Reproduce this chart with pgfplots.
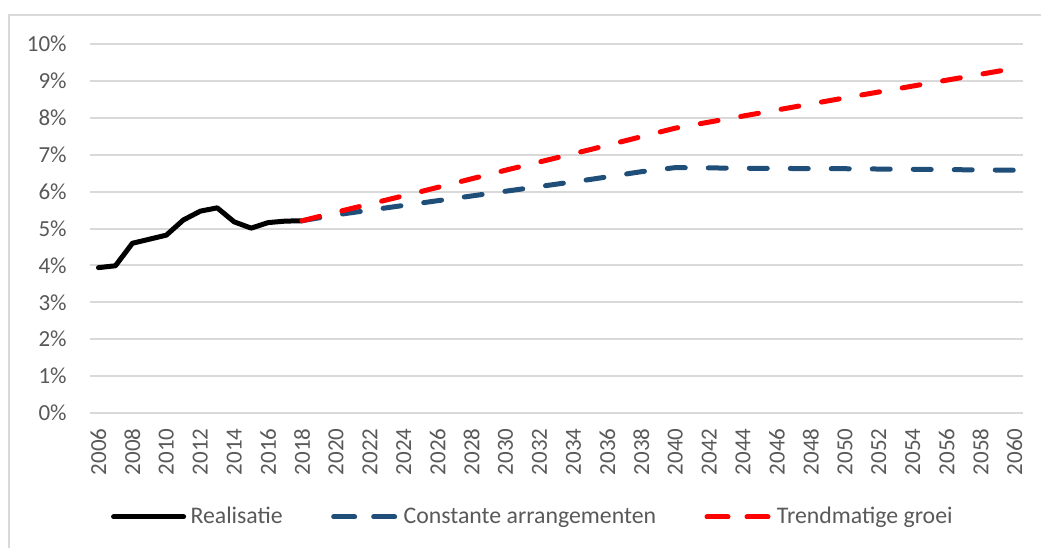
\documentclass[border=0pt]{standalone}
\usepackage{pgfplots}
\pgfplotsset{compat=1.18}
\usepackage{fontspec}
\setmainfont{Carlito}
\definecolor{txt}{HTML}{595959}
\definecolor{gridc}{HTML}{D9D9D9}
\definecolor{dblue}{HTML}{1F4E79}
\definecolor{xred}{HTML}{FF0000}
\pgfplotsset{
  solidleg/.style={legend image code/.code={\draw[##1] (0pt,0pt) -- (35pt,0pt);}},
  dashleg/.style={legend image code/.code={\draw[##1, dash pattern=on 10.5pt off 9.5pt] (0pt,0pt) -- (31.5pt,0pt);}},
}
\begin{document}
\begin{tikzpicture}
\path[use as bounding box] (0,0) rectangle (520.5pt,-274pt);
\draw[gridc, line width=1pt] (4.5pt,-274pt) -- (4.5pt,-7.5pt) -- (520.5pt,-7.5pt);
\begin{axis}[
  at={(45pt,-22pt)}, anchor=north west, scale only axis,
  width=466.5pt, height=184.5pt,
  xmin=2005.5, xmax=2060.5, ymin=0, ymax=10,
  xtick={2006,2008,...,2060}, ytick={0,1,...,10},
  /pgf/number format/assume math mode=true,
  /pgf/number format/1000 sep={},
  yticklabel={\pgfmathprintnumber{\tick}\%},
  axis line style={draw=none},
  ymajorgrids, grid style={gridc, line width=1pt},
  major tick length=0pt,
  tick label style={font=\fontsize{11.5}{13}\selectfont, text=txt, inner sep=0pt},
  yticklabel style={anchor=east},
  yticklabel shift=11.5pt,
  xticklabel style={rotate=90, anchor=east},
  xticklabel shift=7.5pt,
  clip=false,
  legend columns=3,
  legend style={at={(0.4759,-0.2818)}, anchor=center, draw=none, fill=none,
    font=\fontsize{11.9}{14}\selectfont, text=txt,
    /tikz/every even column/.append style={column sep=22pt},
    nodes={inner sep=2.2pt}},
  legend cell align=left,
]
\addplot[black, line width=2.5pt, line join=round, line cap=round, solidleg]
coordinates {
(2006,3.94) (2007,3.99) (2008,4.60) (2009,4.71) (2010,4.82) (2011,5.23)
(2012,5.47) (2013,5.56) (2014,5.18) (2015,5.01) (2016,5.16) (2017,5.20) (2018,5.21)
};
\addlegendentry{Realisatie}
\addplot[dblue, line width=2.5pt, line cap=round, dash pattern=on 9pt off 11.5pt, dashleg]
coordinates {
(2018,5.21) (2020,5.37) (2025,5.69) (2030,6.01) (2035,6.33) (2038,6.54) (2040,6.65)
(2045,6.63) (2050,6.62) (2055,6.60) (2060,6.58)
};
\addlegendentry{Constante arrangementen}
\addplot[xred, line width=2.5pt, line cap=round, dash pattern=on 9pt off 11.5pt, dashleg]
coordinates {
(2018,5.21) (2020,5.44) (2025,6.00) (2030,6.58) (2035,7.14) (2040,7.72)
(2045,8.13) (2050,8.54) (2055,8.94) (2060,9.34)
};
\addlegendentry{Trendmatige groei}
\end{axis}
\end{tikzpicture}
\end{document}
